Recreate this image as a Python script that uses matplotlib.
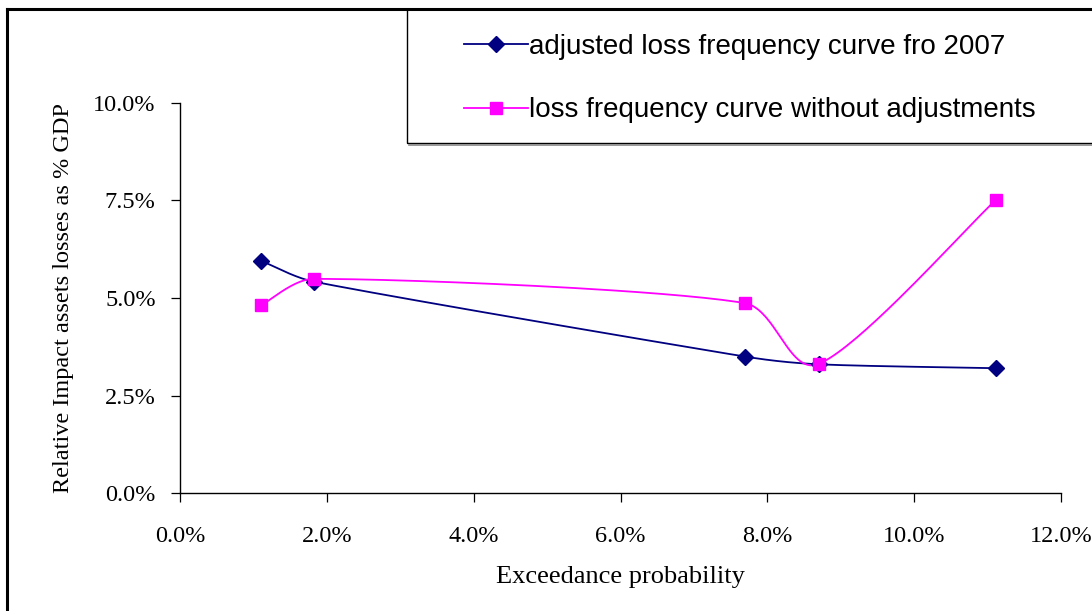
import numpy as np
import matplotlib
matplotlib.use("Agg")
import matplotlib.pyplot as plt
from matplotlib.lines import Line2D
from matplotlib.patches import Rectangle
from matplotlib.ticker import PercentFormatter, MultipleLocator

# exceedance probability (%)
prob = [1.11, 1.82, 7.69, 8.70, 11.11]
# relative impact, % of GDP
adjusted = [5.95, 5.42, 3.50, 3.30, 3.20]
unadjusted = [4.82, 5.49, 4.87, 3.31, 7.51]

labels = ["adjusted loss frequency curve fro 2007",
          "loss frequency curve without adjustments"]


def smooth(ax, xs, ys, n=40):
    # Excel-like smoothed line, worked out in screen space:
    # Catmull-Rom tangents turned into Bezier controls, limited to 1/3 of the segment
    tr = ax.transData
    p = tr.transform(np.column_stack([xs, ys]))
    p = np.vstack([p[0], p, p[-1]])
    t = np.linspace(0, 1, n)[:, None]
    out = []
    for i in range(1, len(p) - 2):
        p0, p1, p2, p3 = p[i - 1], p[i], p[i + 1], p[i + 2]
        seglen = np.hypot(*(p2 - p1))
        a = (p2 - p0) / 6
        b = (p3 - p1) / 6
        if np.hypot(*a) > seglen / 3:
            a = a * (seglen / 3) / np.hypot(*a)
        if np.hypot(*b) > seglen / 3:
            b = b * (seglen / 3) / np.hypot(*b)
        c1 = p1 + a
        c2 = p2 - b
        seg = ((1 - t) ** 3) * p1 + 3 * ((1 - t) ** 2) * t * c1 \
            + 3 * (1 - t) * t ** 2 * c2 + t ** 3 * p2
        out.append(seg)
    out = tr.inverted().transform(np.vstack(out))
    return out[:, 0], out[:, 1]


fig = plt.figure(figsize=(10.92, 6.11), dpi=100)
ax = fig.add_axes([180 / 1092, 1 - 493 / 611, 881 / 1092, 390 / 611])
ax.set_xlim(0, 12)
ax.set_ylim(0, 10)

blue = "#000080"
pink = "#FF00FF"

sx, sy = smooth(ax, prob, adjusted)
ax.plot(sx, sy, color=blue, lw=1.3, zorder=2)
ax.plot(prob, adjusted, ls="none", marker="D", ms=8, color=blue, zorder=3)

sx, sy = smooth(ax, prob, unadjusted)
ax.plot(sx, sy, color=pink, lw=1.3, zorder=2)
ax.plot(prob, unadjusted, ls="none", marker="s", ms=8.5, color=pink, zorder=4)

ax.xaxis.set_major_locator(MultipleLocator(2))
ax.yaxis.set_major_locator(MultipleLocator(2.5))
ax.xaxis.set_major_formatter(PercentFormatter(decimals=1))
ax.yaxis.set_major_formatter(PercentFormatter(decimals=1))

for s in ["top", "right"]:
    ax.spines[s].set_visible(False)
for s in ["left", "bottom"]:
    ax.spines[s].set_linewidth(1.0)

serif = "Liberation Serif"
ax.tick_params(direction="out", length=6.5, width=0.9, labelsize=17.5)
ax.tick_params(axis="x", pad=17)
ax.tick_params(axis="y", pad=11)
for lab in ax.get_xticklabels() + ax.get_yticklabels():
    lab.set_fontfamily(serif)

ax.set_xlabel("Exceedance probability", fontsize=19, family=serif, labelpad=14)
ax.set_ylabel("Relative Impact assets losses as % GDP", fontsize=17.5,
              family=serif, labelpad=14)

# outer chart border (cropped chart area)
fig.add_artist(Line2D([7 / 1092, 7 / 1092], [0, 1 - 9 / 611],
                      transform=fig.transFigure, color="black", lw=2.2))
fig.add_artist(Line2D([7 / 1092, 1], [1 - 9 / 611, 1 - 9 / 611],
                      transform=fig.transFigure, color="black", lw=2.2))

# legend box
fig.add_artist(Rectangle((407 / 1092, 1 - 143 / 611), 700 / 1092, 134 / 611,
                         transform=fig.transFigure, fill=False,
                         edgecolor="black", lw=1.0))
fig.add_artist(Line2D([409 / 1092, 1], [1 - 144.5 / 611, 1 - 144.5 / 611],
                      transform=fig.transFigure, color="#888888", lw=1.2))

handles = [Line2D([], [], color=blue, lw=1.3, marker="D", ms=8),
           Line2D([], [], color=pink, lw=1.3, marker="s", ms=8.5)]
fig.legend(handles, labels, loc="center left",
           bbox_to_anchor=(464 / 1092, 1 - 78.5 / 611),
           frameon=False, borderpad=0, borderaxespad=0,
           handlelength=2.3, handletextpad=0.05, labelspacing=1.35,
           prop={"family": "Liberation Sans", "size": 20})

fig.savefig("out.png", dpi=100)
